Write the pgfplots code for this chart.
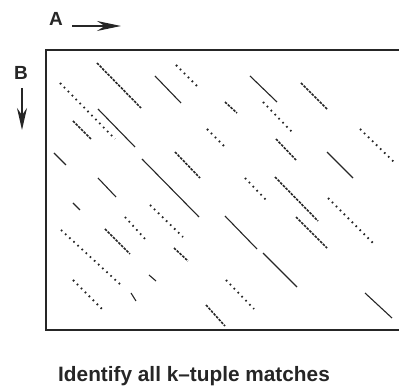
\documentclass[border=0pt]{standalone}
\usepackage{pgfplots}
\pgfplotsset{compat=1.18}
\usetikzlibrary{arrows.meta}
\usepackage{fontspec}
\setmainfont{Liberation Sans}
\begin{document}
\begin{tikzpicture}
\useasboundingbox (0,0) rectangle (399pt,387pt);
\begin{axis}[at={(46pt,57pt)}, anchor=south west, scale only axis,
  width=353pt, height=280pt, xmin=46, xmax=399, ymin=50, ymax=330,
  y dir=reverse, hide axis, clip=false, unbounded coords=jump]
% solid matches
\addplot[black!85, line width=1.1pt] coordinates {
(155,76) (181,103) (nan,nan)
(250,76) (277,102) (nan,nan)
(98,109) (135,147) (nan,nan)
(54,153) (66,165) (nan,nan)
(142,159) (199,217) (nan,nan)
(98,178) (116,197) (nan,nan)
(327,152) (353,178) (nan,nan)
(225,216) (257,249) (nan,nan)
(263,253) (297,287) (nan,nan)
(365,293) (392,318) (nan,nan)
(73,203) (80,210) (nan,nan)
(149,275) (156,281) (nan,nan)
(131,293) (136,301)
};
% dashed matches
\addplot[black!85, line width=1.6pt, dash pattern=on 2.6pt off 1.2pt] coordinates {
(97,63) (141,108) (nan,nan)
(73,121) (91,139) (nan,nan)
(225,102) (237,113) (nan,nan)
(175,152) (200,178) (nan,nan)
(301,83) (327,109) (nan,nan)
(276,139) (296,160) (nan,nan)
(275,177) (318,221) (nan,nan)
(105,229) (130,254) (nan,nan)
(174,248) (188,261) (nan,nan)
(296,217) (327,248) (nan,nan)
(206,305) (225,326)
};
% dotted matches
\addplot[black!85, line width=1.8pt, dash pattern=on 1.6pt off 4pt] coordinates {
(60,83) (115,139) (nan,nan)
(176,65) (198,87) (nan,nan)
(207,129) (225,147) (nan,nan)
(263,102) (292,132) (nan,nan)
(360,129) (394,162) (nan,nan)
(245,178) (268,202) (nan,nan)
(125,217) (146,240) (nan,nan)
(150,205) (183,237) (nan,nan)
(61,230) (122,286) (nan,nan)
(73,280) (102,309) (nan,nan)
(226,280) (254,309) (nan,nan)
(328,198) (373,243)
};
\draw[black!85, line width=1.3pt] (axis cs:399,50) -- (axis cs:46,50) -- (axis cs:46,330) -- (axis cs:399,330);
\end{axis}
\node[font=\bfseries\fontsize{19}{19}\selectfont, text=black!85] at (56pt,368.5pt) {A};
\node[font=\bfseries\fontsize{19}{19}\selectfont, text=black!85] at (21pt,314.5pt) {B};
\draw[black!85, line width=1.5pt, -{Stealth[length=24pt, width=10pt]}] (72pt,361pt) -- (121pt,361pt);
\draw[black!85, line width=1.5pt, -{Stealth[length=22pt, width=10pt]}] (22pt,299pt) -- (22pt,257pt);
\node[font=\bfseries\fontsize{20.8}{21}\selectfont, text=black!85, anchor=base west, inner sep=0pt] at (58pt,5.5pt) {Identify all k–tuple matches};
\end{tikzpicture}
\end{document}
